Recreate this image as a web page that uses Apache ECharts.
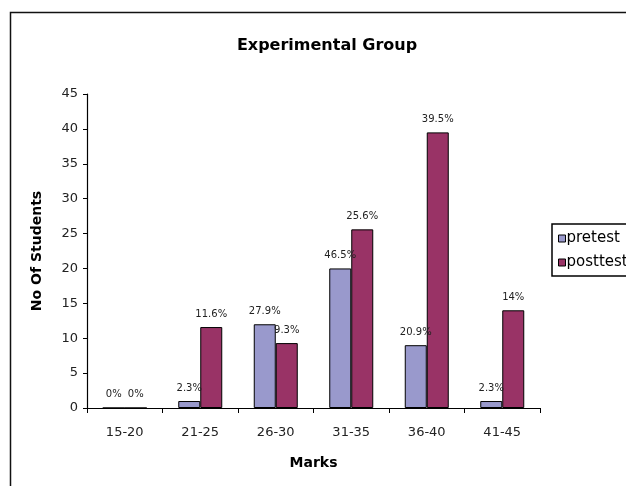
<!DOCTYPE html>
<html>
<head>
<meta charset="utf-8">
<script src="https://cdn.jsdelivr.net/npm/echarts@6/dist/echarts.min.js"></script>
<style>
html,body{margin:0;padding:0;background:#fff;}
#chart{width:626px;height:486px;}
</style>
</head>
<body>
<div id="chart"></div>
<script>
const categories = ['15-20', '21-25', '26-30', '31-35', '36-40', '41-45'];
const pretest = [0, 1, 12, 20, 9, 1];
const posttest = [0, 11.6, 9.3, 25.6, 39.5, 14];
const pretestLabels = ['0%', '2.3%', '27.9%', '46.5%', '20.9%', '2.3%'];
const posttestLabels = ['0%', '11.6%', '9.3%', '25.6%', '39.5%', '14%'];
const yTicks = [0, 5, 10, 15, 20, 25, 30, 35, 40, 45];

const FONT = '"DejaVu Sans", "Liberation Sans", Arial, sans-serif';
const chart = echarts.init(document.getElementById('chart'), null, {renderer: 'canvas'});

const labelStyle = {
  show: true,
  position: 'top',
  distance: 8,
  fontFamily: FONT,
  fontSize: 10,
  color: '#222'
};

chart.setOption({
  backgroundColor: '#fff',
  animation: false,
  title: {
    text: 'Experimental Group',
    left: 322,
    top: 33,
    textAlign: 'center',
    textStyle: {fontFamily: FONT, fontSize: 16, fontWeight: 'bold', color: '#000'}
  },
  graphic: [{
    type: 'rect',
    shape: {x: 10.5, y: 12.5, width: 700, height: 600},
    style: {fill: 'none', stroke: '#111', lineWidth: 1.5},
    silent: true,
    z: -1
  }],
  legend: {
    orient: 'vertical',
    left: 552,
    top: 224,
    itemWidth: 7,
    itemHeight: 7,
    itemGap: 9,
    padding: [7, 20, 6, 6],
    borderColor: '#000',
    borderWidth: 1.5,
    icon: 'rect',
    itemStyle: {borderColor: '#000', borderWidth: 1},
    textStyle: {fontFamily: FONT, fontSize: 15, color: '#000', padding: [0, 0, 0, -4]},
    data: ['pretest', 'posttest']
  },
  grid: {left: 87, right: 86, top: 94, bottom: 78, containLabel: false},
  xAxis: {
    type: 'category',
    data: categories,
    name: 'Marks',
    nameLocation: 'middle',
    nameGap: 48,
    nameTextStyle: {fontFamily: FONT, fontSize: 14, fontWeight: 'bold', color: '#000'},
    axisLine: {lineStyle: {color: '#000', width: 1.2}},
    axisTick: {show: true, length: 5, lineStyle: {color: '#000'}},
    axisLabel: {fontFamily: FONT, fontSize: 13, color: '#222', margin: 18},
    splitLine: {show: false}
  },
  yAxis: {
    type: 'value',
    min: yTicks[0],
    max: yTicks[yTicks.length - 1],
    interval: 5,
    name: 'No Of Students',
    nameLocation: 'middle',
    nameGap: 43,
    nameRotate: 90,
    nameTextStyle: {fontFamily: FONT, fontSize: 14, fontWeight: 'bold', color: '#000'},
    axisLine: {show: true, lineStyle: {color: '#000', width: 1.2}},
    axisTick: {show: true, length: 4, lineStyle: {color: '#000'}},
    axisLabel: {fontFamily: FONT, fontSize: 13, color: '#222', margin: 9},
    splitLine: {show: false}
  },
  series: [
    {
      name: 'pretest',
      type: 'bar',
      data: pretest,
      barWidth: 22,
      barGap: '0%',
      itemStyle: {color: '#9999CC', borderColor: '#000', borderWidth: 1},
      label: Object.assign({}, labelStyle, {formatter: p => pretestLabels[p.dataIndex]})
    },
    {
      name: 'posttest',
      type: 'bar',
      data: posttest,
      barWidth: 22,
      barGap: '0%',
      itemStyle: {color: '#993366', borderColor: '#000', borderWidth: 1},
      label: Object.assign({}, labelStyle, {formatter: p => posttestLabels[p.dataIndex]})
    }
  ]
});
</script>
</body>
</html>
